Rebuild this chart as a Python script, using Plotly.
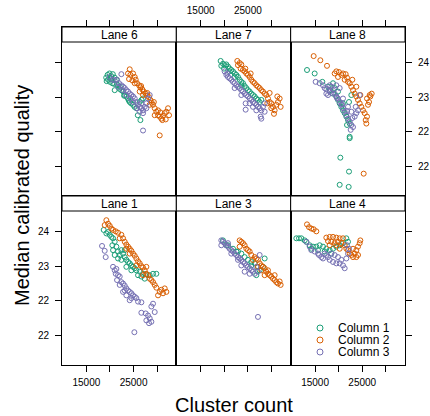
import plotly.graph_objects as go

# ---------------- data ----------------
lanes = ["Lane 6", "Lane 7", "Lane 8", "Lane 1", "Lane 3", "Lane 4"]
series_names = ["Column 1", "Column 2", "Column 3"]
colors = ["#1B9E77", "#D95F02", "#7570B3"]
x_ticks = [15000, 20000, 25000, 30000]
x_tick_text = ["15000", "", "25000", ""]
y_ticks = [22.0, 22.5, 23.0, 23.5]
y_tick_text = ["22", "22", "23", "24"]

# Lane 6
lane6_c1_x = [19200,19500,19900,20300,20600,19600,20300,21000,19300,20000,21400,20900,21700,22100,22400,21000,22800,23100,23500,23800,24200,24500,24900,25200,25600,26300,26700,25900,26450,27000,22000,23000,24000,20500,21500]
lane6_c1_y = [23.28,23.32,23.34,23.30,23.33,23.25,23.26,23.28,23.23,23.22,23.25,23.19,23.17,23.15,23.10,23.10,23.08,23.03,23.01,22.98,22.93,22.91,22.89,22.86,22.84,22.93,22.96,22.74,22.67,22.98,23.12,23.02,22.95,23.20,23.18]
lane6_c2_x = [24184,23830,24325,24890,25244,24043,24750,25456,25738,26162,26445,26870,27152,27576,27859,28283,28565,28848,29130,29484,29837,30190,30544,30897,31250,31604,31957,32310,32523,31816,31110,30190,29484,30544,27010,26304,28424,25244,26600,27900,29300,30700]
lane6_c2_y = [23.40,23.34,23.32,23.34,23.29,23.26,23.24,23.25,23.20,23.17,23.14,23.11,23.08,23.05,23.02,23.00,22.96,22.92,22.89,22.84,22.79,22.74,22.72,22.69,22.73,22.77,22.79,22.84,22.74,22.68,22.67,22.81,22.74,22.45,23.03,23.08,22.89,23.20,23.16,23.06,22.93,22.78]
lane6_c3_x = [19944,20510,21004,21500,22417,21922,22417,22770,23124,23477,23830,24184,24537,24890,25244,25597,25950,26304,26657,27010,27364,27717,28070,28424,26304,27010,25740,24325,23477,22770,27010,21710,24890,26657,27717]
lane6_c3_y = [23.29,23.25,23.24,23.25,23.33,23.20,23.17,23.15,23.13,23.10,23.08,23.05,23.03,23.01,22.98,22.93,22.89,22.86,22.84,22.81,22.86,22.91,22.98,23.03,22.79,22.77,22.84,22.98,23.03,23.10,22.52,23.15,22.93,22.91,22.84]

# Lane 7
lane7_c1_x = [19223,19718,20072,19365,20425,20778,21132,21485,21838,22192,22545,22898,23252,23605,23958,24312,24665,25018,25372,25725,26078,26432,26785,27138,27492,27845,19930,21132,22192,23605]
lane7_c1_y = [23.52,23.48,23.46,23.45,23.47,23.44,23.41,23.39,23.37,23.34,23.32,23.29,23.25,23.22,23.20,23.16,23.13,23.10,23.08,23.05,23.03,23.01,22.98,22.96,22.93,22.96,23.41,23.37,23.29,23.17]
lane7_c2_x = [22757,23252,22898,23605,23463,23958,24312,24665,25018,25372,25725,26078,26432,26785,27138,27492,27845,28198,28552,28905,29612,29258,29612,29965,30318,30672,31025,31379,31732,31237,31944,30530,29965,29117,25584,24453]
lane7_c2_y = [23.52,23.49,23.46,23.47,23.41,23.39,23.37,23.34,23.32,23.29,23.25,23.22,23.20,23.17,23.15,23.13,23.10,23.08,23.05,23.03,23.06,22.98,22.93,22.91,22.86,22.81,22.89,22.93,22.98,23.01,22.86,22.76,22.84,22.91,23.34,23.41]
lane7_c3_x = [20072,20425,20778,20637,21132,21485,21838,22192,22545,22898,23252,23605,23958,24312,24665,25018,25372,25725,26078,26432,26785,27138,27492,27845,28198,28552,24524,24524,26078,27703,27845,26785,25372,23605,22192,28552]
lane7_c3_y = [23.37,23.32,23.29,23.34,23.27,23.25,23.22,23.20,23.17,23.15,23.13,23.10,23.08,23.05,23.03,23.01,22.98,22.96,22.93,22.91,22.89,22.86,22.84,22.81,22.86,22.91,22.91,22.82,22.86,22.72,22.69,22.81,22.91,23.03,23.13,22.79]

# Lane 8
lane8_c1_x = [13294,14919,16545,18806,17746,18099,18806,19513,19866,20220,20573,20926,21280,21633,21986,22340,21774,22693,22198,22340,22340,20361,22198,20220,22128,19159,19866,20926]
lane8_c1_y = [23.39,23.34,23.22,23.20,23.15,23.10,23.05,23.01,22.96,22.91,22.86,22.81,22.77,22.72,22.67,22.62,22.60,23.03,22.93,22.43,22.41,22.13,21.93,21.74,21.71,23.13,23.08,22.91]
lane8_c2_x = [14707,16121,17534,19159,19513,20078,20573,19866,20926,21492,21774,21280,21986,22340,22693,23046,23400,23753,24106,24460,24813,25166,25520,25732,25873,26014,26226,26439,26721,27004,26014,26580,25308,22905,23753,24601]
lane8_c2_y = [23.59,23.53,23.45,23.34,23.37,23.36,23.32,23.29,23.34,23.33,23.28,23.25,23.22,23.20,23.15,23.10,23.05,23.01,22.96,22.91,22.86,22.81,22.77,22.67,22.62,22.72,22.89,22.93,23.01,23.05,22.98,23.03,21.90,23.25,23.15,23.03]
lane8_c3_x = [15131,15979,16686,17039,17393,17746,18099,18453,18806,19159,19513,19866,20220,20573,20926,21280,21633,21986,22340,22693,23046,22552,23400,23753,24106,24460,23612,20220,19513,18099,20926,21986,22693,17400,18500,19600,20700,21800,22900]
lane8_c3_y = [23.22,23.20,23.17,23.13,23.05,23.03,23.08,23.15,23.10,23.05,23.01,22.98,22.93,22.89,22.84,22.79,22.74,22.69,22.65,22.60,22.57,22.53,22.72,22.77,22.81,23.03,22.86,23.13,23.17,23.17,22.98,22.86,22.79,23.11,23.06,22.99,22.90,22.80,22.70]

# Lane 1
lane1_c1_x = [18671,19237,19944,19590,20650,21004,20509,21357,20650,21710,21004,22064,22417,22770,23124,23477,23830,24184,24537,24890,25244,25597,26304,27010,27717,28424,29130,29837,27364,25950,24537,23124,21710,22417,23477,26657,20297]
lane1_c1_y = [23.52,23.47,23.45,23.49,23.40,23.35,23.30,23.28,23.23,23.21,23.16,23.16,23.23,23.18,23.13,23.09,23.06,23.04,23.01,22.99,22.97,22.94,22.92,22.89,22.88,22.87,22.89,22.89,22.82,22.87,22.94,23.23,23.11,23.09,22.99,22.85,23.42]
lane1_c2_x = [19237,19590,18883,19944,20297,20650,21216,21710,22417,22770,23124,23477,23830,24184,24537,24890,25244,25597,25950,26304,26657,27010,27364,27717,28070,28424,28777,29130,29484,29837,30544,30897,31250,31957,31604,30190,25597,24184,23477,22064,27717,27010]
lane1_c2_y = [23.66,23.61,23.59,23.58,23.54,23.52,23.50,23.48,23.45,23.40,23.35,23.31,23.28,23.25,23.22,23.18,23.15,23.11,23.07,23.04,23.00,22.98,22.94,22.89,22.87,22.82,22.80,22.77,22.73,22.69,22.63,22.66,22.61,22.63,22.68,22.58,23.01,23.18,23.25,23.40,22.99,22.87]
lane1_c3_x = [18318,18883,19095,20650,21004,21357,21216,21710,22064,21498,22417,22770,23124,23477,23830,24184,24537,24890,25244,25597,25950,26657,22770,23477,22064,29130,28777,26657,27576,28070,28424,28777,28283,29484,25173,24184,23124,27717,24537]
lane1_c3_y = [23.29,23.22,23.13,22.99,22.94,22.96,22.89,22.87,22.85,22.80,22.77,22.75,22.72,22.68,22.65,22.63,22.61,22.58,22.56,22.54,22.49,22.48,22.63,22.58,22.73,22.46,22.42,22.33,22.32,22.29,22.25,22.20,22.18,22.34,22.05,22.51,22.65,22.22,22.54]

# Lane 3
lane3_c1_x = [20425,21838,23605,25018,26432,27492,28552,26785,25725,28198,24312,22545,27138,19718,20778,22898,25725,27000]
lane3_c1_y = [23.30,23.25,23.18,23.09,23.04,22.94,23.11,22.87,23.06,22.99,23.13,23.21,22.99,23.37,23.30,23.21,23.01,22.93]
lane3_c2_x = [23252,23605,23958,23252,24312,24665,25018,25372,25725,26432,26785,27138,27492,27845,28198,28552,28905,29258,29612,29965,30318,30672,31025,31379,31732,31944,27845,26078,27138,28552,30672,29258]
lane3_c2_y = [23.37,23.35,23.33,23.28,23.30,23.25,23.23,23.21,23.16,23.13,23.11,23.09,23.04,23.01,22.99,22.97,22.92,22.89,22.87,22.85,22.82,22.80,22.77,22.75,22.78,22.73,22.94,23.09,22.99,22.87,22.87,22.94]
lane3_c3_x = [19365,19718,20072,19365,20425,20778,21132,21485,21838,22192,22545,22898,23252,23605,23958,24312,24665,25018,25372,25725,26078,26432,27138,27492,27138,24312,25372,22898,21485,20778,26785,23605]
lane3_c3_y = [23.37,23.35,23.33,23.30,23.30,23.28,23.25,23.23,23.21,23.18,23.16,23.13,23.11,23.09,23.06,23.04,23.01,22.99,22.97,22.94,22.92,22.89,22.92,23.16,22.27,22.92,22.89,23.09,23.18,23.33,22.99,23.01]

# Lane 4
lane4_c1_x = [11032,11598,12092,12799,13153,13859,14566,15273,15979,16686,17393,18099,18806,19513,20220,20926,21633,21986,15626,17039,18453,14213]
lane4_c1_y = [23.40,23.40,23.40,23.37,23.35,23.30,23.28,23.28,23.30,23.28,23.25,23.23,23.25,23.28,23.30,23.33,23.40,23.35,23.23,23.21,23.18,23.25]
lane4_c2_x = [13294,13718,14213,14707,15273,17393,18099,18806,19513,20220,20926,17746,18453,19159,19866,20573,21280,21633,21986,22340,22693,23046,23400,23753,24106,24460,24601,23753,24106,18099,19513,20220,23046]
lane4_c2_y = [23.60,23.56,23.54,23.53,23.50,23.41,23.42,23.42,23.41,23.40,23.40,23.36,23.35,23.33,23.35,23.33,23.30,23.25,23.23,23.18,23.16,23.13,23.18,23.23,23.28,23.33,23.37,23.13,23.16,23.30,23.30,23.25,23.25]
lane4_c3_x = [13153,13859,14213,14919,15626,16332,16686,17393,18099,18806,19513,20220,20926,21280,20573,19866,19159,18453,17746,21633,21986,22198,21774,17039,15838]
lane4_c3_y = [23.35,23.28,23.23,23.21,23.18,23.13,23.11,23.16,23.09,23.06,23.04,23.04,23.01,22.97,23.09,23.13,23.16,23.18,23.13,23.11,23.18,23.25,23.30,23.18,23.16]

panel_data = [
    [(lane6_c1_x, lane6_c1_y), (lane6_c2_x, lane6_c2_y), (lane6_c3_x, lane6_c3_y)],
    [(lane7_c1_x, lane7_c1_y), (lane7_c2_x, lane7_c2_y), (lane7_c3_x, lane7_c3_y)],
    [(lane8_c1_x, lane8_c1_y), (lane8_c2_x, lane8_c2_y), (lane8_c3_x, lane8_c3_y)],
    [(lane1_c1_x, lane1_c1_y), (lane1_c2_x, lane1_c2_y), (lane1_c3_x, lane1_c3_y)],
    [(lane3_c1_x, lane3_c1_y), (lane3_c2_x, lane3_c2_y), (lane3_c3_x, lane3_c3_y)],
    [(lane4_c1_x, lane4_c1_y), (lane4_c2_x, lane4_c2_y), (lane4_c3_x, lane4_c3_y)],
]

# ---------------- figure ----------------
FONT = "Liberation Sans, Arial, Helvetica, sans-serif"
W, H = 430, 416
ML, MR, MT, MB = 62, 25, 27, 51
PW, PH = W - ML - MR, H - MT - MB
X_RANGE = [9831, 34068]
Y_RANGE = [21.579, 24.008]
STRIP_FRAC = 154 / 169  # panel fraction of each cell (rest is strip)

fig = go.Figure()
layout = dict(
    template="none",
    width=W, height=H,
    margin=dict(l=ML, r=MR, t=MT, b=MB, pad=0, autoexpand=False),
    paper_bgcolor="white", plot_bgcolor="white",
    font=dict(family=FONT, color="black"),
    showlegend=False,
)
shapes, annotations = [], []

for i, lane in enumerate(lanes):
    r, c = divmod(i, 3)
    k = i + 1
    sfx = "" if k == 1 else str(k)
    xname, yname = "x" + sfx, "y" + sfx
    for j, (xs, ys) in enumerate(panel_data[i]):
        fig.add_trace(go.Scatter(
            x=xs, y=ys, mode="markers", xaxis=xname, yaxis=yname,
            name=series_names[j], showlegend=False, hoverinfo="skip",
            marker=dict(symbol="circle-open", size=5, color=colors[j],
                        line=dict(width=1, color=colors[j])),
        ))
    show_x = (r == 0 and c == 1) or (r == 1 and c in (0, 2))
    layout["xaxis" + sfx] = dict(
        domain=[c / 3, (c + 1) / 3], range=X_RANGE, anchor=yname,
        side="top" if r == 0 else "bottom", automargin=False,
        tickmode="array", tickvals=x_ticks, ticktext=x_tick_text,
        ticks="outside", ticklen=6, tickwidth=1, tickcolor="black",
        showticklabels=show_x, tickfont=dict(size=10, family=FONT, color="black"),
        ticklabelstandoff=2,
        showline=True, mirror=True, linecolor="black", linewidth=1,
        showgrid=False, zeroline=False, fixedrange=True,
    )
    show_y = (c == 0 and r == 1) or (c == 2 and r == 0)
    layout["yaxis" + sfx] = dict(
        domain=[0.5, 1] if r == 0 else [0, 0.5], range=Y_RANGE, anchor=xname,
        side="left" if c == 0 else "right", automargin=False,
        tickmode="array", tickvals=y_ticks, ticktext=y_tick_text,
        ticks="" if c == 1 else "outside", ticklen=6, tickwidth=1, tickcolor="black",
        showticklabels=show_y, tickfont=dict(size=10, family=FONT, color="black"),
        ticklabelstandoff=4,
        showline=True, mirror=True, linecolor="black", linewidth=1,
        showgrid=False, zeroline=False, fixedrange=True,
    )
    # strip
    shapes.append(dict(type="rect", xref=xname + " domain", yref=yname + " domain",
                       x0=0, x1=1, y0=STRIP_FRAC, y1=1,
                       fillcolor="white", line=dict(color="black", width=1)))
    annotations.append(dict(text=lane, xref=xname + " domain", yref=yname + " domain",
                            x=0.5, y=(STRIP_FRAC + 1) / 2, showarrow=False,
                            xanchor="center", yanchor="middle",
                            font=dict(size=12, family=FONT, color="black")))

# axis titles
annotations.append(dict(text="Cluster count", xref="paper", yref="paper",
                        x=0.5, y=-40 / PH, showarrow=False,
                        xanchor="center", yanchor="middle",
                        font=dict(size=20, family=FONT, color="black")))
annotations.append(dict(text="Median calibrated quality", xref="paper", yref="paper",
                        x=(22 - ML) / PW, y=0.5, showarrow=False, textangle=-90,
                        xanchor="center", yanchor="middle",
                        font=dict(size=20, family=FONT, color="black")))

# key (legend) inside Lane 4 panel
key_px_y = [328, 340, 352]
for j, name in enumerate(series_names):
    cy = (H - MB - key_px_y[j]) / PH
    cx = (320 - ML) / PW
    rx, ry = 3.0 / PW, 3.0 / PH
    shapes.append(dict(type="circle", xref="paper", yref="paper",
                       x0=cx - rx, x1=cx + rx, y0=cy - ry, y1=cy + ry,
                       line=dict(color=colors[j], width=1), fillcolor="rgba(0,0,0,0)"))
    annotations.append(dict(text=name, xref="paper", yref="paper",
                            x=(336 - ML) / PW, y=cy, showarrow=False,
                            xanchor="left", yanchor="middle", height=12,
                            font=dict(size=12, family=FONT, color="black")))

layout["shapes"] = shapes
layout["annotations"] = annotations
fig.update_layout(**layout)
fig.write_html("out.html", config={"displayModeBar": False},
               post_script="document.body.style.margin='0';document.body.style.padding='0';")
